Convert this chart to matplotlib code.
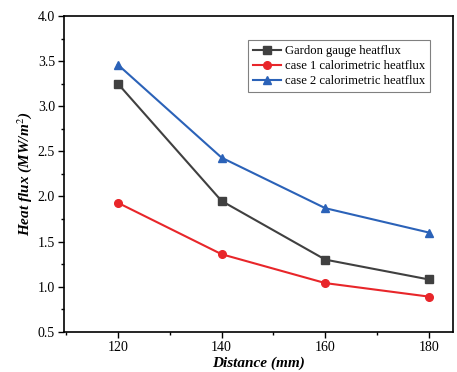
import matplotlib.pyplot as plt
from matplotlib.ticker import MultipleLocator

plt.rcParams["font.family"] = ["Liberation Serif", "DejaVu Serif"]
plt.rcParams["mathtext.fontset"] = "stix"

distance = [120, 140, 160, 180]
gardon = [3.25, 1.95, 1.30, 1.08]
case1 = [1.93, 1.36, 1.04, 0.89]
case2 = [3.46, 2.43, 1.87, 1.60]

fig = plt.figure(figsize=(4.57, 3.72), dpi=100)
ax = fig.add_axes([0.140, 0.108, 0.851, 0.849])

ax.plot(distance, gardon, color="#404040", marker="s", markersize=5.5,
        linewidth=1.5, label="Gardon gauge heatflux")
ax.plot(distance, case1, color="#e8262a", marker="o", markersize=5.5,
        linewidth=1.5, label="case 1 calorimetric heatflux")
ax.plot(distance, case2, color="#2b62b8", marker="^", markersize=6,
        linewidth=1.5, label="case 2 calorimetric heatflux")

ax.set_xlim(109.6, 184.6)
ax.set_ylim(0.5, 4.0)
ax.xaxis.set_major_locator(MultipleLocator(20))
ax.xaxis.set_minor_locator(MultipleLocator(10))
ax.yaxis.set_major_locator(MultipleLocator(0.5))
ax.yaxis.set_minor_locator(MultipleLocator(0.25))
ax.tick_params(which="both", direction="out", labelsize=10, top=False, right=False)
ax.tick_params(which="major", length=4, width=1, pad=2.5)
ax.tick_params(which="minor", length=2.5, width=1)
for s in ax.spines.values():
    s.set_linewidth(1.2)

ax.set_xlabel("Distance (mm)", fontsize=11, fontweight="bold", fontstyle="italic",
              labelpad=2)
ax.set_ylabel("Heat flux (MW/m$^2$)", fontsize=11, fontweight="bold",
              fontstyle="italic", labelpad=3)

leg = ax.legend(loc="upper right", bbox_to_anchor=(0.941, 0.924), fontsize=9.1,
                fancybox=False, edgecolor="#808080", framealpha=1,
                handlelength=2.2, borderpad=0.4, labelspacing=0.25,
                handletextpad=0.3, borderaxespad=0)
leg.get_frame().set_linewidth(0.8)

fig.savefig("out.png", dpi=100)
